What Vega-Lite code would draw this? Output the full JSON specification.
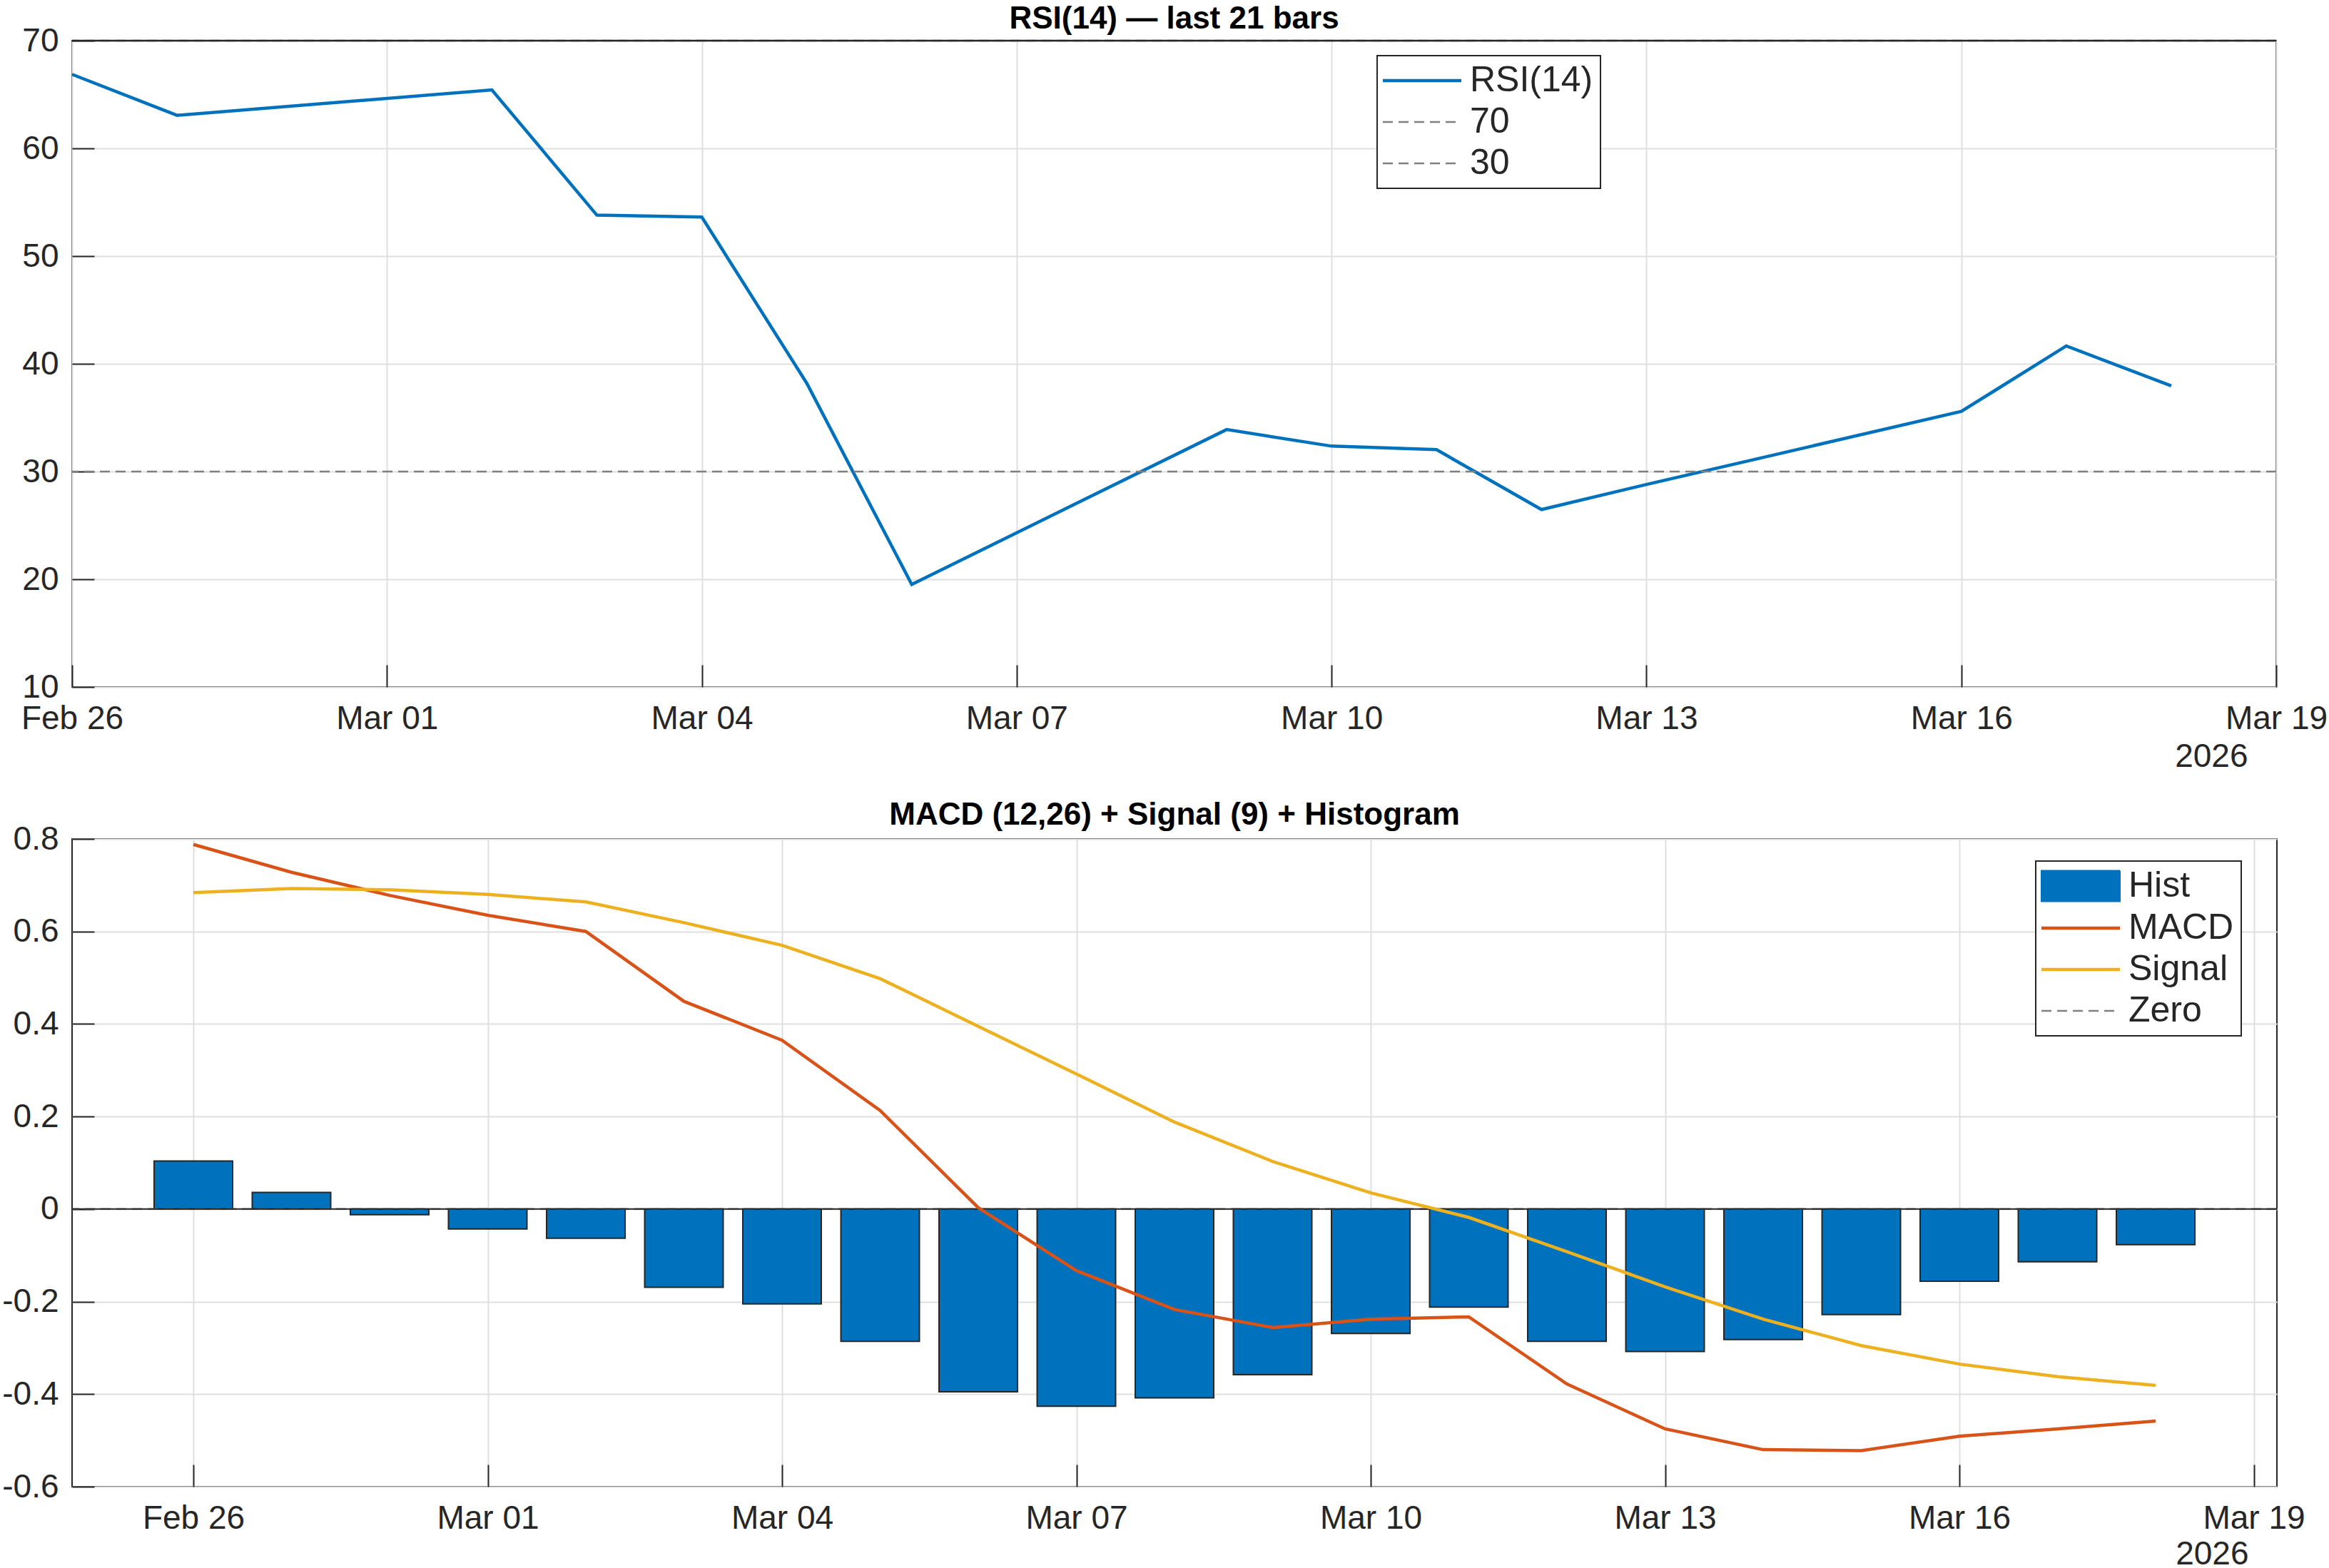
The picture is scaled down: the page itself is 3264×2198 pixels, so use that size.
{
  "$schema": "https://vega.github.io/schema/vega-lite/v6.json",
  "background": "white",
  "padding": {"left": 0, "top": 4, "right": 0, "bottom": 0},
  "spacing": 36,
  "resolve": {"scale": {"color": "independent"}, "legend": {"color": "independent"}},
  "datasets": {
    "rsi": [
      {"date": "2026-02-26", "rsi": 66.87},
      {"date": "2026-02-27", "rsi": 63.07},
      {"date": "2026-03-02", "rsi": 65.43},
      {"date": "2026-03-03", "rsi": 53.80},
      {"date": "2026-03-04", "rsi": 53.62},
      {"date": "2026-03-05", "rsi": 38.20},
      {"date": "2026-03-06", "rsi": 19.52},
      {"date": "2026-03-09", "rsi": 33.90},
      {"date": "2026-03-10", "rsi": 32.36},
      {"date": "2026-03-11", "rsi": 32.03},
      {"date": "2026-03-12", "rsi": 26.47},
      {"date": "2026-03-13", "rsi": 28.80},
      {"date": "2026-03-16", "rsi": 35.58},
      {"date": "2026-03-17", "rsi": 41.66},
      {"date": "2026-03-18", "rsi": 37.95}
    ],
    "levels": [
      {"label": "70", "level": 70},
      {"label": "30", "level": 30}
    ],
    "frameTop": [
      {"level": 70}
    ],
    "hist": [
      {"date": "2026-02-26", "hist": 0.104},
      {"date": "2026-02-27", "hist": 0.036},
      {"date": "2026-02-28", "hist": -0.012},
      {"date": "2026-03-01", "hist": -0.043},
      {"date": "2026-03-02", "hist": -0.063},
      {"date": "2026-03-03", "hist": -0.169},
      {"date": "2026-03-04", "hist": -0.205},
      {"date": "2026-03-05", "hist": -0.286},
      {"date": "2026-03-06", "hist": -0.395},
      {"date": "2026-03-07", "hist": -0.426},
      {"date": "2026-03-08", "hist": -0.408},
      {"date": "2026-03-09", "hist": -0.358},
      {"date": "2026-03-10", "hist": -0.269},
      {"date": "2026-03-11", "hist": -0.212},
      {"date": "2026-03-12", "hist": -0.286},
      {"date": "2026-03-13", "hist": -0.308},
      {"date": "2026-03-14", "hist": -0.282},
      {"date": "2026-03-15", "hist": -0.228},
      {"date": "2026-03-16", "hist": -0.156},
      {"date": "2026-03-17", "hist": -0.114},
      {"date": "2026-03-18", "hist": -0.077}
    ],
    "zero": [
      {"label": "Zero", "level": 0}
    ],
    "macd": [
      {"date": "2026-02-26", "series": "MACD", "value": 0.788},
      {"date": "2026-02-27", "series": "MACD", "value": 0.728},
      {"date": "2026-02-28", "series": "MACD", "value": 0.678},
      {"date": "2026-03-01", "series": "MACD", "value": 0.635},
      {"date": "2026-03-02", "series": "MACD", "value": 0.600},
      {"date": "2026-03-03", "series": "MACD", "value": 0.449},
      {"date": "2026-03-04", "series": "MACD", "value": 0.365},
      {"date": "2026-03-05", "series": "MACD", "value": 0.213},
      {"date": "2026-03-06", "series": "MACD", "value": 0.003},
      {"date": "2026-03-07", "series": "MACD", "value": -0.133},
      {"date": "2026-03-08", "series": "MACD", "value": -0.217},
      {"date": "2026-03-09", "series": "MACD", "value": -0.256},
      {"date": "2026-03-10", "series": "MACD", "value": -0.238},
      {"date": "2026-03-11", "series": "MACD", "value": -0.233},
      {"date": "2026-03-12", "series": "MACD", "value": -0.378},
      {"date": "2026-03-13", "series": "MACD", "value": -0.475},
      {"date": "2026-03-14", "series": "MACD", "value": -0.520},
      {"date": "2026-03-15", "series": "MACD", "value": -0.522},
      {"date": "2026-03-16", "series": "MACD", "value": -0.491},
      {"date": "2026-03-17", "series": "MACD", "value": -0.475},
      {"date": "2026-03-18", "series": "MACD", "value": -0.458},
      {"date": "2026-02-26", "series": "Signal", "value": 0.684},
      {"date": "2026-02-27", "series": "Signal", "value": 0.693},
      {"date": "2026-02-28", "series": "Signal", "value": 0.690},
      {"date": "2026-03-01", "series": "Signal", "value": 0.680},
      {"date": "2026-03-02", "series": "Signal", "value": 0.664},
      {"date": "2026-03-03", "series": "Signal", "value": 0.619},
      {"date": "2026-03-04", "series": "Signal", "value": 0.570},
      {"date": "2026-03-05", "series": "Signal", "value": 0.498},
      {"date": "2026-03-06", "series": "Signal", "value": 0.395},
      {"date": "2026-03-07", "series": "Signal", "value": 0.292},
      {"date": "2026-03-08", "series": "Signal", "value": 0.188},
      {"date": "2026-03-09", "series": "Signal", "value": 0.103},
      {"date": "2026-03-10", "series": "Signal", "value": 0.035},
      {"date": "2026-03-11", "series": "Signal", "value": -0.018},
      {"date": "2026-03-12", "series": "Signal", "value": -0.092},
      {"date": "2026-03-13", "series": "Signal", "value": -0.168},
      {"date": "2026-03-14", "series": "Signal", "value": -0.238},
      {"date": "2026-03-15", "series": "Signal", "value": -0.295},
      {"date": "2026-03-16", "series": "Signal", "value": -0.335},
      {"date": "2026-03-17", "series": "Signal", "value": -0.362},
      {"date": "2026-03-18", "series": "Signal", "value": -0.381}
    ]
  },
  "vconcat": [
    {
      "width": 3089,
      "height": 906,
      "title": {"text": "RSI(14) — last 21 bars", "fontSize": 44, "fontWeight": "bold", "color": "#000000", "offset": -15, "anchor": "middle"},
      "layer": [
        {
          "data": {"name": "rsi"},
          "mark": {"type": "line", "strokeWidth": 4.5, "strokeJoin": "miter"},
          "encoding": {
            "x": {
              "field": "date", "type": "temporal",
              "scale": {"type": "utc", "domain": [
                {"year": 2026, "month": 2, "date": 26, "utc": true},
                {"year": 2026, "month": 3, "date": 19, "utc": true}
              ]},
              "axis": {
                "orient": "bottom", "format": "%b %d", "grid": true,
                "values": [
                  {"year": 2026, "month": 2, "date": 26, "utc": true},
                  {"year": 2026, "month": 3, "date": 1, "utc": true},
                  {"year": 2026, "month": 3, "date": 4, "utc": true},
                  {"year": 2026, "month": 3, "date": 7, "utc": true},
                  {"year": 2026, "month": 3, "date": 10, "utc": true},
                  {"year": 2026, "month": 3, "date": 13, "utc": true},
                  {"year": 2026, "month": 3, "date": 16, "utc": true},
                  {"year": 2026, "month": 3, "date": 19, "utc": true}
                ],
                "title": "2026", "titleAnchor": "end", "titleAlign": "right", "titleX": 3049, "titlePadding": 8
              }
            },
            "y": {
              "field": "rsi", "type": "quantitative",
              "scale": {"domain": [10, 70], "nice": false, "zero": false},
              "axis": {"orient": "left", "values": [10, 20, 30, 40, 50, 60, 70], "grid": true, "title": null}
            },
            "color": {
              "datum": "RSI(14)", "type": "nominal",
              "scale": {"domain": ["RSI(14)", "70", "30"], "range": ["#0072BD", "#808080", "#808080"]},
              "legend": {
                "orient": "none", "legendX": 1829, "legendY": 21,
                "symbolType": "stroke",
                "symbolSize": 12100,
                "encode": {
                  "symbols": {"update": {
                    "strokeDash": {"signal": "datum.label === 'RSI(14)' ? [1, 0] : [14, 8]"},
                    "strokeWidth": {"signal": "datum.label === 'RSI(14)' ? 4.5 : 2.5"}
                  }},
                  "legend": {"update": {"strokeWidth": {"value": 2}}}
                }
              }
            }
          }
        },
        {
          "data": {"name": "levels"},
          "mark": {"type": "rule", "strokeWidth": 2.5, "strokeDash": [14, 8]},
          "encoding": {
            "y": {"field": "level", "type": "quantitative"},
            "color": {"field": "label", "type": "nominal", "legend": null}
          }
        },
        {
          "data": {"name": "frameTop"},
          "mark": {"type": "rule", "strokeWidth": 2.5, "color": "#262626"},
          "encoding": {
            "y": {"field": "level", "type": "quantitative"}
          }
        }
      ]
    },
    {
      "width": 3090,
      "height": 908,
      "title": {"text": "MACD (12,26) + Signal (9) + Histogram", "fontSize": 44, "fontWeight": "bold", "color": "#000000", "offset": -12, "anchor": "middle"},
      "layer": [
        {
          "data": {"name": "hist"},
          "mark": {"type": "bar", "width": 110, "fill": "#0072BD", "stroke": "#262626", "strokeWidth": 2},
          "encoding": {
            "x": {
              "field": "date", "type": "temporal",
              "scale": {"type": "utc", "domain": [
                {"year": 2026, "month": 2, "date": 24, "hours": 19, "minutes": 12, "utc": true},
                {"year": 2026, "month": 3, "date": 19, "hours": 4, "minutes": 48, "utc": true}
              ]},
              "axis": {
                "orient": "bottom", "format": "%b %d", "grid": true,
                "values": [
                  {"year": 2026, "month": 2, "date": 26, "utc": true},
                  {"year": 2026, "month": 3, "date": 1, "utc": true},
                  {"year": 2026, "month": 3, "date": 4, "utc": true},
                  {"year": 2026, "month": 3, "date": 7, "utc": true},
                  {"year": 2026, "month": 3, "date": 10, "utc": true},
                  {"year": 2026, "month": 3, "date": 13, "utc": true},
                  {"year": 2026, "month": 3, "date": 16, "utc": true},
                  {"year": 2026, "month": 3, "date": 19, "utc": true}
                ],
                "title": "2026", "titleAnchor": "end", "titleAlign": "right", "titleX": 3050, "titlePadding": 5
              }
            },
            "y": {
              "field": "hist", "type": "quantitative",
              "scale": {"domain": [-0.6, 0.8], "nice": false, "zero": false},
              "axis": {"orient": "left", "values": [-0.6, -0.4, -0.2, 0, 0.2, 0.4, 0.6, 0.8], "grid": true, "title": null,
                "labelExpr": "datum.value === 0 ? '0' : replace(format(datum.value, '.1f'), '−', '-')"}
            }
          }
        },
        {
          "data": {"name": "zero"},
          "mark": {"type": "rule", "strokeWidth": 2.5, "strokeDash": [14, 8]},
          "encoding": {
            "y": {"field": "level", "type": "quantitative"},
            "color": {
              "field": "label", "type": "nominal",
              "scale": {"domain": ["Hist", "MACD", "Signal", "Zero"], "range": ["#0072BD", "#D95319", "#EDB120", "#808080"]},
              "legend": {
                "orient": "none", "legendX": 2752, "legendY": 31,
                "symbolType": "stroke",
                "symbolSize": 12100,
                "encode": {
                  "symbols": {"update": {
                    "shape": {"signal": "datum.label === 'Hist' ? 'M-1,-0.39H1V0.39H-1Z' : 'stroke'"},
                    "fill": {"signal": "datum.label === 'Hist' ? '#0072BD' : 'transparent'"},
                    "fillOpacity": {"value": 1},
                    "stroke": {"signal": "datum.label === 'Hist' ? '#262626' : datum.label === 'MACD' ? '#D95319' : datum.label === 'Signal' ? '#EDB120' : '#808080'"},
                    "strokeDash": {"signal": "datum.label === 'Zero' ? [14, 8] : [1, 0]"},
                    "strokeWidth": {"signal": "datum.label === 'Hist' ? 2 : datum.label === 'Zero' ? 2.5 : 4.5"}
                  }},
                  "legend": {"update": {"strokeWidth": {"value": 2}}}
                }
              }
            }
          }
        },
        {
          "data": {"name": "zero"},
          "mark": {"type": "rule", "strokeWidth": 2, "color": "#262626"},
          "encoding": {
            "y": {"field": "level", "type": "quantitative"}
          }
        },
        {
          "data": {"name": "macd"},
          "mark": {"type": "line", "strokeWidth": 4.5, "strokeJoin": "miter"},
          "encoding": {
            "x": {"field": "date", "type": "temporal"},
            "y": {"field": "value", "type": "quantitative"},
            "color": {"field": "series", "type": "nominal"}
          }
        }
      ]
    }
  ],
  "config": {
    "font": "Liberation Sans",
    "view": {"stroke": "#262626", "strokeWidth": 2},
    "axis": {
      "labelFont": "Liberation Sans",
      "labelFontSize": 46,
      "labelColor": "#262626",
      "labelFlush": false,
      "labelOverlap": false,
      "tickColor": "#262626",
      "tickWidth": 2,
      "tickSize": -31,
      "domain": false,
      "gridColor": "#dfdfdf",
      "gridWidth": 2,
      "titleFont": "Liberation Sans",
      "titleFontSize": 46,
      "titleFontWeight": "normal",
      "titleColor": "#262626"
    },
    "axisX": {"labelPadding": 53},
    "axisY": {"minExtent": 100, "maxExtent": 100, "labelPadding": 50},
    "legend": {
      "title": null,
      "labelFont": "Liberation Sans",
      "labelFontSize": 50,
      "labelColor": "#262626",
      "labelLimit": 600,
      "labelOffset": 42,
      "symbolOffset": 28,
      "symbolStrokeWidth": 4.5,
      "strokeColor": "#262626",
      "fillColor": "white",
      "padding": 10,
      "rowPadding": 8,
      "cornerRadius": 0
    },
    "title": {"font": "Liberation Sans"}
  }
}
